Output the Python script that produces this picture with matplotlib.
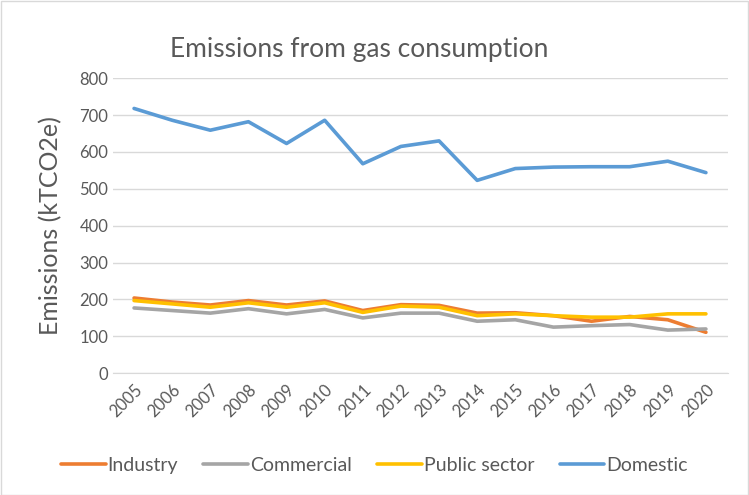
import matplotlib.pyplot as plt

plt.rcParams['font.family'] = ['Lato', 'DejaVu Sans']

years = ['2005', '2006', '2007', '2008', '2009', '2010', '2011', '2012',
         '2013', '2014', '2015', '2016', '2017', '2018', '2019', '2020']
industry = [204, 193, 185, 197, 185, 196, 170, 186, 184, 163, 164, 156, 141, 154, 145, 111]
commercial = [177, 170, 163, 175, 161, 173, 150, 163, 163, 141, 145, 125, 129, 132, 117, 120]
public_sector = [197, 188, 179, 191, 179, 191, 165, 182, 179, 156, 161, 156, 152, 152, 161, 161]
domestic = [718, 686, 659, 682, 623, 686, 568, 615, 630, 523, 555, 559, 560, 560, 575, 544]

txt = '#595959'
fig = plt.figure(figsize=(7.49, 4.95), dpi=100)
ax = fig.add_axes([0.151, 0.246, 0.821, 0.596])

x = range(len(years))
ax.plot(x, industry, color='#ED7D31', lw=2.6, label='Industry', solid_capstyle='round')
ax.plot(x, commercial, color='#A5A5A5', lw=2.6, label='Commercial', solid_capstyle='round')
ax.plot(x, public_sector, color='#FFC000', lw=2.6, label='Public sector', solid_capstyle='round')
ax.plot(x, domestic, color='#5B9BD5', lw=2.6, label='Domestic', solid_capstyle='round')

ax.set_xlim(-0.55, 15.58)
ax.set_ylim(0, 800)
ax.set_yticks(range(0, 801, 100))
ax.set_xticks(list(x))
ax.set_xticklabels(years, rotation=45, ha='right', rotation_mode='anchor')
ax.grid(axis='y', color='#D9D9D9', lw=1)
ax.set_axisbelow(True)
for s in ['top', 'right', 'left']:
    ax.spines[s].set_visible(False)
ax.spines['bottom'].set_color('#D9D9D9')
ax.tick_params(length=0, colors=txt, labelsize=12)
ax.tick_params(axis='x', pad=6)

ax.set_ylabel('Emissions (kTCO2e)', fontsize=18, color=txt, labelpad=12)
fig.text(0.48, 0.885, 'Emissions from gas consumption', fontsize=19, color=txt, ha='center')

ax.legend(loc='upper center', bbox_to_anchor=(0.425, -0.225), ncol=4, frameon=False,
          fontsize=14, labelcolor=txt, handlelength=2.3, handletextpad=0.1,
          columnspacing=1.3)

fig.patches.append(plt.Rectangle((0.001, 0.001), 0.997, 0.997, transform=fig.transFigure,
                                 fill=False, edgecolor='#D9D9D9', lw=1))

plt.savefig('out.png')
